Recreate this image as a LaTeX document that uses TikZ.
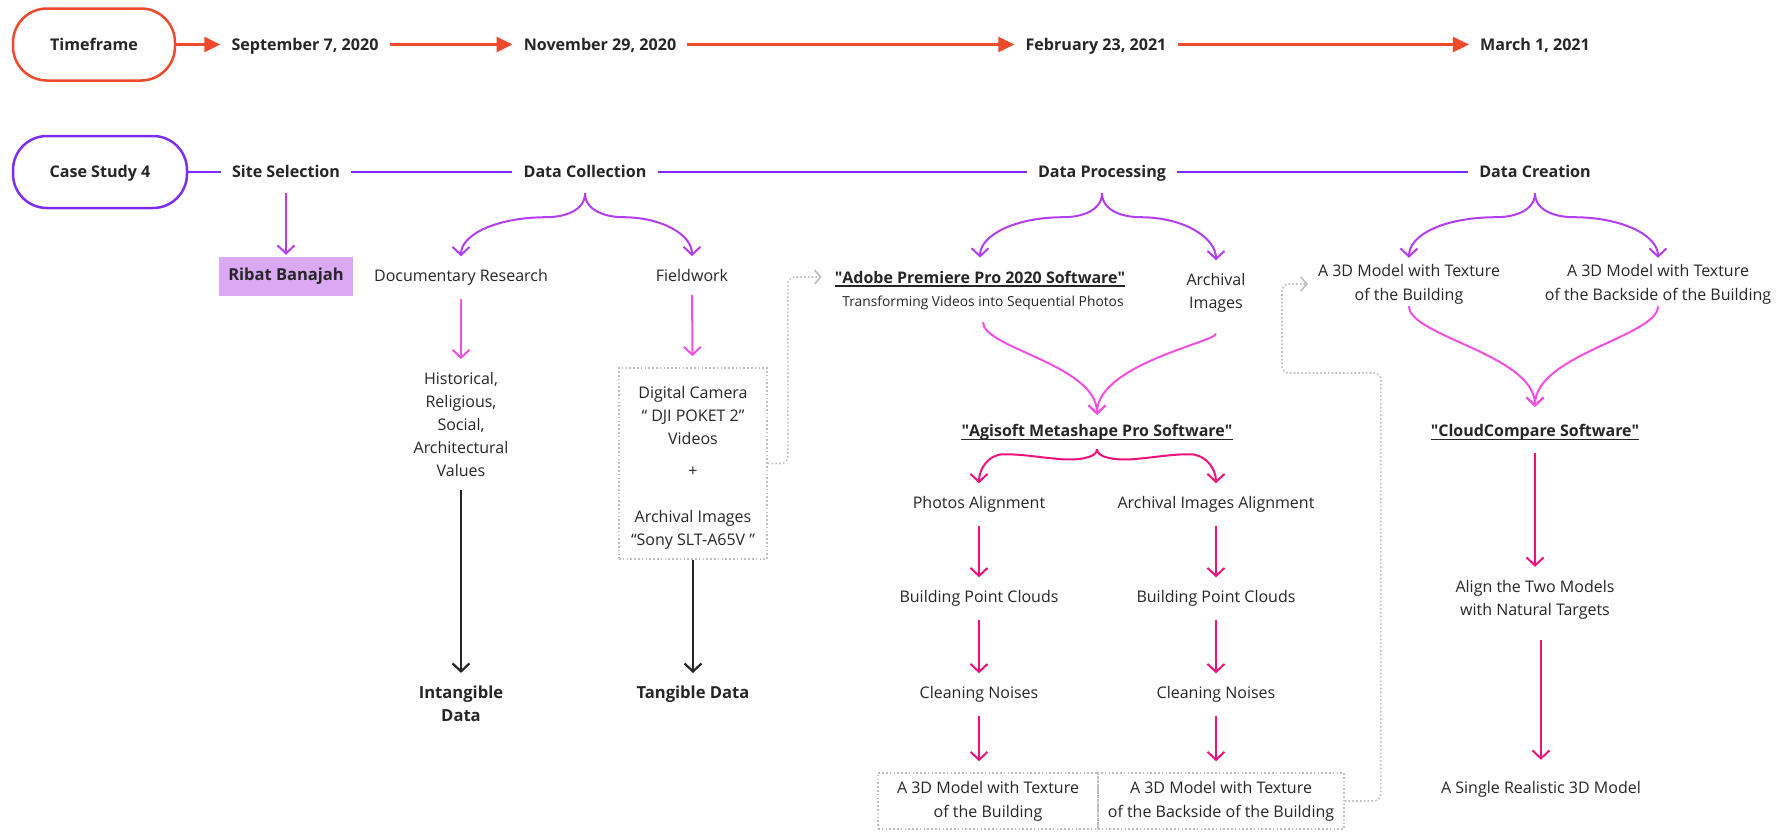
\documentclass[tikz,border=0pt]{standalone}
\usepackage{fontspec}
\setmainfont{Open Sans}
\usepackage{tikz}
\usetikzlibrary{arrows.meta,positioning}

\definecolor{tlred}{HTML}{EF4A2B}
\definecolor{caseviolet}{HTML}{7C2EF3}
\definecolor{splitpurple}{HTML}{B53DF0}
\definecolor{flowpink}{HTML}{F24FE2}
\definecolor{procpink}{HTML}{F0127A}
\definecolor{siteback}{HTML}{DBA8F4}
\definecolor{ink}{HTML}{262626}
\definecolor{dotgray}{HTML}{BEBEBE}

\newcommand{\qt}[1]{\textquotedbl#1\textquotedbl}

\begin{document}
\begin{tikzpicture}[
  x=1pt, y=-1pt,
  every node/.style={align=center, text=ink},
  txt/.style={font=\fontsize{16}{23}\selectfont, inner xsep=10pt, inner ysep=13pt},
  twoline/.style={txt, font=\fontsize{16}{24}\selectfont, inner ysep=2pt},
  small/.style={font=\fontsize{13.8}{16}\selectfont, inner xsep=0pt, inner ysep=12pt},
  stage/.style={font=\bfseries\fontsize{16.1}{20}\selectfont, text height=11.4pt,
                text depth=0pt, inner xsep=11pt, inner ysep=15.3pt},
  pill/.style={stage, draw, line width=2.5pt, rounded corners=34pt,
               minimum width=162pt, minimum height=72pt},
  result/.style={txt, font=\bfseries\fontsize{16.6}{23}\selectfont},
  title/.style={font=\bfseries\fontsize{16}{20}\selectfont, inner xsep=0pt, inner ysep=13pt},
  sitebox/.style={fill=siteback, font=\bfseries\fontsize{16.5}{20}\selectfont,
                  minimum width=134pt, minimum height=39pt, inner sep=0pt},
  dotbox/.style={draw=dotgray, line width=1.6pt, dash pattern=on 1.6pt off 2.2pt,
                 font=\fontsize{16}{24}\selectfont, inner sep=0pt},
  tl/.style={tlred, line width=2.6pt, -{Triangle[length=16pt,width=15pt]}},
  caseline/.style={caseviolet, line width=2pt},
  arr/.style={line width=2pt, -{Straight Barb[length=8pt,width=17pt]}},
  split/.style={arr, splitpurple},
  flow/.style={arr, flowpink},
  procarr/.style={arr, procpink},
  done/.style={arr, ink, line width=2.2pt},
  link/.style={dotgray, line width=1.6pt, dash pattern=on 1.6pt off 2.2pt,
               rounded corners=7pt, -{Straight Barb[length=6pt,width=14pt]}},
  uline/.style={ink, line width=1.3pt}
]
\useasboundingbox (0,0) rectangle (1792,831);

% Timeline.
\node[pill,draw=tlred] (tf) at (94,44.5) {Timeframe};
\node[stage] (d1) at (305,44.5)  {September 7, 2020};
\node[stage] (d2) at (600,44.5)  {November 29, 2020};
\node[stage] (d3) at (1096,44.5) {February 23, 2021};
\node[stage] (d4) at (1535,44.5) {March 1, 2021};
\foreach \a/\b in {tf/d1, d1/d2, d2/d3, d3/d4}
  \draw[tl] (\a) -- (\b);

% Case study stages.
\node[pill,draw=caseviolet,minimum width=174pt] (cs) at (100,172) {Case Study 4};
\node[stage] (sel)  at (286,172)  {Site Selection};
\node[stage] (col)  at (585,172)  {Data Collection};
\node[stage] (proc) at (1102,172) {Data Processing};
\node[stage] (crea) at (1535,172) {Data Creation};
\foreach \a/\b in {cs/sel, sel/col, col/proc, proc/crea}
  \draw[caseline] (\a) -- (\b);

% Site selection.
\node[sitebox] (ribat) at (286,276.5) {Ribat Banajah};
\draw[split,shorten >=2pt] (sel) -- (ribat);

% Data collection.
\node[txt] (docr)  at (461,277.5) {Documentary Research};
\node[txt] (field) at (692,275.5) {Fieldwork};
\draw[split] (col.south) .. controls +(0,18) and +(16,0) .. ++(-38,24)
  .. controls +(-50,0) and +(0,-22) .. (docr.north);
\draw[split] (col.south) .. controls +(0,18) and +(-16,0) .. ++(38,24)
  .. controls +(38,0) and +(0,-22) .. (field.north);

\node[txt] (hist) at (461,424.5) {Historical,\\Religious,\\Social,\\Architectural\\Values};
\node[dotbox,minimum width=148pt,minimum height=191pt] (fbox) at (693,463.5) {};
\node[font=\fontsize{16}{23}\selectfont] (ftext) at (693,467.5)
  {Digital Camera\\“ DJI POKET 2”\\Videos\\[9pt]+\\[23pt]Archival Images\\“Sony SLT-A65V ”};
\draw[flow] (docr) -- (hist);
\draw[flow,shorten >=11pt] (field) -- (fbox);

\node[result] (intang) at (461,704)  {Intangible\\Data};
\node[result] (tang)   at (693,694.5) {Tangible Data};
\draw[done] (hist) -- (intang);
\draw[done] (fbox) -- (tang);

% Data processing.
\node[title] (adobe) at (980,277) {\qt{Adobe Premiere Pro 2020 Software}};
\node[small] (trans) at (983,303) {Transforming Videos into Sequential Photos};
\node[txt]   (arch)  at (1216,293) {Archival\\Images};
\draw[uline] ([yshift=-3pt]adobe.base west) -- ([yshift=-3pt]adobe.base east);
\draw[split] (proc.south) .. controls +(0,18) and +(16,0) .. ++(-38,24)
  .. controls +(-50,0) and +(0,-22) .. (adobe.north);
\draw[split] (proc.south) .. controls +(0,18) and +(-16,0) .. ++(38,24)
  .. controls +(45,0) and +(0,-22) .. (arch.north);
\draw[link,shorten >=13pt] (fbox.east) -- ++(20,0) |- (adobe.west);

\node[title] (agi) at (1097,432) {\qt{Agisoft Metashape Pro Software}};
\draw[uline] ([yshift=-3pt]agi.base west) -- ([yshift=-3pt]agi.base east);
\draw[flow] (trans.south) .. controls +(0,26) and +(0,-50) .. ([yshift=-4pt]agi.north);
\draw[flow,shorten <=8pt] (arch.south) .. controls +(0,16) and +(0,-50) .. ([yshift=-4pt]agi.north);

% Two reconstruction chains.
\node[txt] (palign) at (979,504.5)  {Photos Alignment};
\node[txt] (aalign) at (1216,504.5) {Archival Images Alignment};
\node[txt] (pcl1)   at (979,598.5)  {Building Point Clouds};
\node[txt] (pcl2)   at (1216,598.5) {Building Point Clouds};
\node[txt] (cln1)   at (979,694.5)  {Cleaning Noises};
\node[txt] (cln2)   at (1216,694.5) {Cleaning Noises};
\node[dotbox,minimum width=220pt,minimum height=56pt] (mod1) at (988,801)
  {A 3D Model with Texture\\of the Building};
\node[dotbox,minimum width=246pt,minimum height=56pt] (mod2) at (1221,801)
  {A 3D Model with Texture\\of the Backside of the Building};

\draw[procarr] ([yshift=4pt]agi.south) .. controls +(0,9) and +(15,1) .. ++(-35,10)
  .. controls +(-25,-2) and +(20,0) .. ++(-58,-5)
  .. controls +(-16,0) and +(0,-14) .. (palign.north);
\draw[procarr] ([yshift=4pt]agi.south) .. controls +(0,9) and +(-15,1) .. ++(35,10)
  .. controls +(25,-2) and +(-20,0) .. ++(58,-5)
  .. controls +(16,0) and +(0,-14) .. (aalign.north);
\draw[procarr] (palign) -- (pcl1);
\draw[procarr] (pcl1) -- (cln1);
\draw[procarr,shorten >=11pt] (cln1) -- (cln1 |- mod1.north);
\draw[procarr] (aalign) -- (pcl2);
\draw[procarr] (pcl2) -- (cln2);
\draw[procarr,shorten >=11pt] (cln2) -- (cln2 |- mod2.north);

% Data creation.
\node[twoline] (m3a) at (1409,284) {A 3D Model with Texture\\of the Building};
\node[twoline] (m3b) at (1658,284) {A 3D Model with Texture\\of the Backside of the Building};
\draw[split] (crea.south) .. controls +(0,18) and +(16,0) .. ++(-38,24)
  .. controls +(-55,0) and +(0,-22) .. ([yshift=4pt]m3a.north);
\draw[split] (crea.south) .. controls +(0,18) and +(-16,0) .. ++(38,24)
  .. controls +(50,0) and +(0,-22) .. ([yshift=4pt]m3b.north);

\coordinate (bend) at (1282,373);
\draw[link] (mod2.east) -- ++(36,0) |- (bend) |- (m3a.west);

\node[title] (cc) at (1535,432) {\qt{CloudCompare Software}};
\draw[uline] ([yshift=-3pt]cc.base west) -- ([yshift=-3pt]cc.base east);
\draw[flow] (m3a.south) .. controls +(0,30) and +(0,-52) .. ([yshift=4pt]cc.north);
\draw[flow] (m3b.south) .. controls +(0,30) and +(0,-52) .. ([yshift=4pt]cc.north);

\node[txt] (algn)   at (1535,599.5) {Align the Two Models\\with Natural Targets};
\node[txt] (single) at (1541,789)   {A Single Realistic 3D Model};
\draw[procarr] (cc) -- (algn);
\draw[procarr,shorten <=8pt] (algn.south -| single.north) -- ([yshift=8pt]single.north);
\end{tikzpicture}
\end{document}
